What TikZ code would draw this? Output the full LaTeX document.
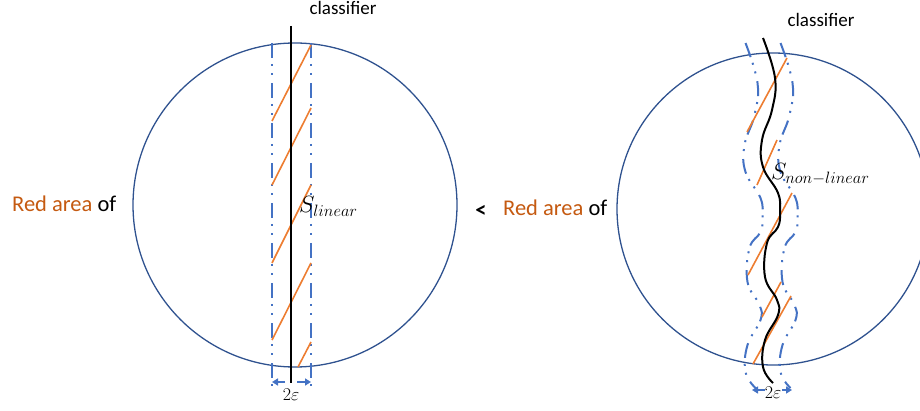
\RequirePackage{fix-cm}
\documentclass[tikz,border=0pt]{standalone}
\usepackage[no-math]{fontspec}
\setmainfont{Carlito}
\usetikzlibrary{arrows.meta}
\definecolor{circblue}{RGB}{47,82,143}
\definecolor{dashblue}{RGB}{68,114,196}
\definecolor{lineorange}{RGB}{237,125,49}
\definecolor{textorange}{RGB}{197,90,17}
\begin{document}
\begin{tikzpicture}[x=1pt,y=-1pt,
  circ/.style={draw=circblue,line width=1.3pt},
  bound/.style={draw=dashblue,line width=2pt,dash pattern=on 15pt off 6pt on 2pt off 7pt on 2pt off 8pt},
  clsf/.style={draw=black,line width=2.4pt},
  wavyclsf/.style={draw=black,line width=2pt},
  hatch/.style={draw=lineorange,line width=1.6pt},
  gap/.style={draw=dashblue,line width=1.8pt,-{Triangle[length=6pt,width=7pt]}},
  big/.style={font=\fontsize{22.5}{27}\selectfont,inner sep=0pt},
  small/.style={font=\fontsize{19}{23}\selectfont,inner sep=0pt},
  mathlbl/.style={font=\fontsize{23.5}{28}\selectfont,inner sep=0pt},
  eps/.style={font=\fontsize{18}{21}\selectfont,inner sep=0pt},
]
\useasboundingbox (0,0) rectangle (920,411);
\clip (0,0) rectangle (920,411);

% ---------------- left: linear classifier ----------------
\coordinate (lcen) at (295,205);
\draw[circ] (lcen) circle[radius=162];

\coordinate (lbt) at (272,43);  \coordinate (lbb) at (272,392);
\coordinate (rbt) at (311,43);  \coordinate (rbb) at (311,392);
\draw[bound] (lbt) -- (lbb);
\draw[bound] (rbt) -- (rbb);

\coordinate (ct) at (291,26); \coordinate (cb) at (291,383);

\draw[hatch] (311,45) -- (272,121);
\draw[hatch] (311,108) -- (272,185);
\draw[hatch] (311,185) -- (272,263);
\draw[hatch] (311,263) -- (272,340);
\draw[hatch] (311,342) -- (298,367);

\draw[clsf] (ct) -- (cb);

\coordinate (la1) at (285,382); \coordinate (la2) at (272,382);
\coordinate (la3) at (297,382); \coordinate (la4) at (311,382);
\draw[gap] (la1) -- (la2);
\draw[gap] (la3) -- (la4);

\node[small,anchor=base] (cl1) at (343,15) {classifier};
\node[big,anchor=base west] (ra1) at (12,212) {\textcolor{textorange}{Red area} of};
\node[mathlbl,anchor=base west] (s1) at (299,213) {$S_{linear}$};
\node[eps,anchor=base] (e1) at (291,400) {$2\varepsilon$};

% ---------------- middle ----------------
\node[big,anchor=base] (lt) at (481,218) {\textbf{<}};

% ---------------- right: non-linear classifier ----------------
\coordinate (rcen) at (773,209);
\draw[circ] (rcen) circle[radius=156];

\begin{scope}[shift={(-17.5,5)}]
\draw[bound] plot[smooth,tension=0.7] coordinates {(763,38) (775,78) (772,110) (762,140) (763,167) (778,193) (780,212) (778,227) (767,243) (765,277) (777,300) (778,315) (765,340) (763,367) (773,383)};
\end{scope}
\begin{scope}[shift={(17.5,5)}]
\draw[bound] plot[smooth,tension=0.7] coordinates {(763,38) (775,78) (772,110) (762,140) (763,167) (778,193) (780,212) (778,227) (767,243) (765,277) (777,300) (778,315) (765,340) (763,367) (773,383)};
\end{scope}

\draw[hatch] (787,58) -- (747,132);
\draw[hatch] (777,140) -- (757,185);
\draw[hatch] (792,193) -- (748,275);
\draw[hatch] (781,282) -- (762,317);
\draw[hatch] (791,296) -- (753,364);

\draw[wavyclsf] plot[smooth,tension=0.7] coordinates {(763,38) (775,78) (772,110) (762,140) (763,167) (778,193) (780,212) (778,227) (767,243) (765,277) (777,300) (778,315) (765,340) (763,367) (773,383)};

\coordinate (ra1s) at (765,390); \coordinate (ra1e) at (752,390);
\coordinate (ra2s) at (782,390); \coordinate (ra2e) at (792,390);
\draw[gap] (ra1s) -- (ra1e);
\draw[gap] (ra2s) -- (ra2e);

\node[small,anchor=base] (cl2) at (821,27) {classifier};
\node[big,anchor=base west] (ra2) at (503,216) {\textcolor{textorange}{Red area} of};
\node[mathlbl,anchor=base west] (s2) at (771,180) {$S_{non-linear}$};
\node[eps,anchor=base] (e2) at (773,398) {$2\varepsilon$};
\end{tikzpicture}
\end{document}
